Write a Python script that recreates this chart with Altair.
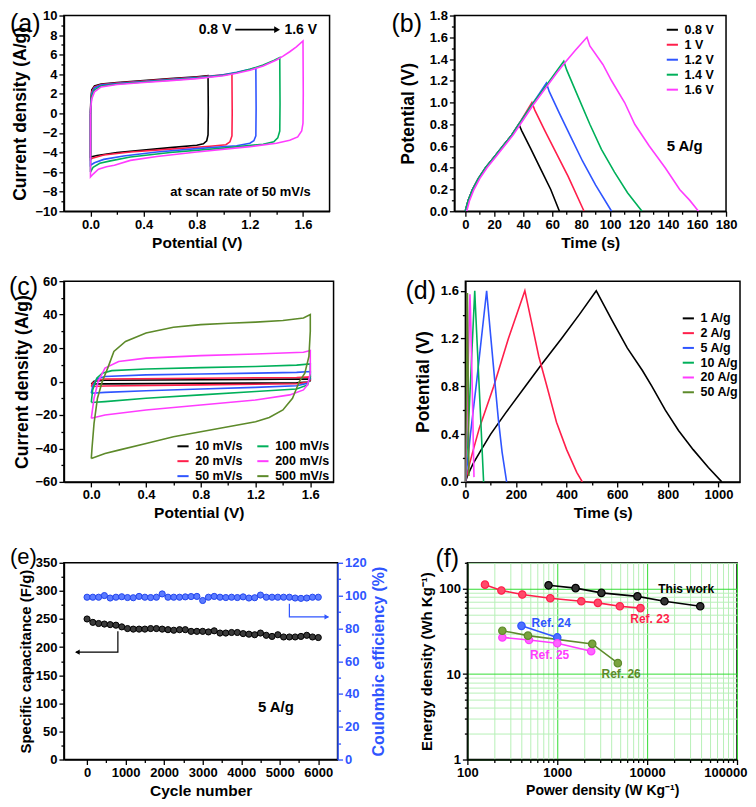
import json
import altair as alt
import pandas as pd

FONT = "Liberation Sans"
BLACK = "#000000"
RED = "#ff1f4b"
BLUE = "#2f55ff"
GREEN = "#00b05a"
MAGENTA = "#ff3cff"
OLIVE = "#5d8a2a"

# ---------------- (a) CV at 50 mV/s, different voltage windows
A_NAMES = ["0.8 V", "1 V", "1.2 V", "1.4 V", "1.6 V"]
A_COLORS = [BLACK, RED, BLUE, GREEN, MAGENTA]
A_X_08 = [0.0, 0.003, 0.01, 0.03, 0.08, 0.2, 0.4, 0.6, 0.8, 0.885, 0.887, 0.885, 0.875, 0.85, 0.8, 0.6, 0.4, 0.2, 0.05, 0.0, 0.0]
A_Y_08 = [0.0, 1.5, 2.4, 2.8, 3.0, 3.15, 3.35, 3.55, 3.75, 3.85, 0.0, -2.2, -2.8, -3.1, -3.25, -3.5, -3.75, -4.0, -4.3, -4.45, 0.0]
A_X_10 = [0.0, 0.003, 0.01, 0.03, 0.08, 0.2, 0.4, 0.6, 0.8, 1.0, 1.065, 1.067, 1.065, 1.05, 1.02, 0.9, 0.6, 0.3, 0.1, 0.02, 0.0, 0.0]
A_Y_10 = [0.0, 1.3, 2.2, 2.7, 2.95, 3.1, 3.3, 3.5, 3.7, 3.95, 4.05, 0.0, -2.3, -2.9, -3.2, -3.35, -3.65, -3.95, -4.25, -4.55, -4.7, 0.0]
A_X_12 = [0.0, 0.003, 0.01, 0.03, 0.08, 0.2, 0.4, 0.6, 0.8, 1.0, 1.1, 1.2, 1.245, 1.247, 1.245, 1.23, 1.2, 1.1, 0.8, 0.5, 0.25, 0.1, 0.03, 0.0, 0.0]
A_Y_12 = [0.0, 1.1, 2.0, 2.6, 2.9, 3.05, 3.25, 3.45, 3.65, 3.95, 4.2, 4.5, 4.65, 0.5, -2.3, -2.8, -3.05, -3.3, -3.6, -3.95, -4.35, -4.7, -5.05, -5.3, 0.0]
A_X_14 = [0.0, 0.003, 0.01, 0.03, 0.08, 0.2, 0.4, 0.6, 0.8, 1.0, 1.1, 1.2, 1.3, 1.38, 1.425, 1.427, 1.425, 1.41, 1.38, 1.3, 1.0, 0.6, 0.3, 0.15, 0.07, 0.02, 0.0, 0.0]
A_Y_14 = [0.0, 0.9, 1.8, 2.4, 2.8, 3.0, 3.2, 3.4, 3.6, 3.9, 4.15, 4.5, 4.95, 5.4, 5.7, 1.0, -1.8, -2.5, -2.9, -3.15, -3.55, -4.0, -4.45, -4.85, -5.1, -5.5, -6.0, 0.0]
A_X_16 = [0.0, 0.003, 0.01, 0.03, 0.08, 0.2, 0.4, 0.6, 0.8, 1.0, 1.1, 1.2, 1.3, 1.4, 1.45, 1.5, 1.55, 1.6, 1.602, 1.6, 1.59, 1.56, 1.5, 1.4, 1.2, 0.8, 0.5, 0.3, 0.18, 0.12, 0.06, 0.02, 0.0, 0.0]
A_Y_16 = [0.0, 0.7, 1.5, 2.2, 2.7, 2.95, 3.15, 3.35, 3.55, 3.85, 4.1, 4.4, 4.85, 5.45, 5.85, 6.3, 6.8, 7.4, 2.0, -1.0, -1.8, -2.4, -2.75, -3.05, -3.4, -3.95, -4.4, -4.8, -5.3, -5.45, -5.7, -6.2, -6.5, 0.0]
A_XMAJ = [0.0, 0.4, 0.8, 1.2, 1.6]
A_XMIN = [0.2, 0.6, 1.0, 1.4]
A_YMAJ = [-10, -8, -6, -4, -2, 0, 2, 4, 6, 8, 10]
A_YMIN = [-9, -7, -5, -3, -1, 1, 3, 5, 7, 9]
A_NOTE_TXT = ["0.8 V", "1.6 V", "at scan rate of 50 mV/s"]
A_NOTE_X = [1.06, 1.46, 0.6]
A_NOTE_Y = [8.55, 8.55, -8.0]
A_NOTE_ALIGN = ["right", "left", "left"]
A_ARROW_X = [1.09]
A_ARROW_X2 = [1.40]
A_ARROW_Y = [8.55]
A_HEAD_X = [1.405]

# ---------------- (b) GCD at 5 A/g, different windows
B_NAMES = ["0.8 V", "1 V", "1.2 V", "1.4 V", "1.6 V"]
B_T_08 = [0, 2, 5, 9, 14, 20, 26, 32, 37, 39, 45, 52, 59, 65]
B_V_08 = [0, 0.1, 0.2, 0.3, 0.4, 0.5, 0.6, 0.7, 0.8, 0.74, 0.58, 0.39, 0.2, 0]
B_T_10 = [0, 2, 5, 9, 14, 20, 26, 32, 37, 41.5, 46, 48, 55, 63, 71, 82]
B_V_10 = [0, 0.1, 0.2, 0.3, 0.4, 0.5, 0.6, 0.7, 0.8, 0.9, 1.0, 0.93, 0.74, 0.53, 0.32, 0]
B_T_12 = [0, 2, 5, 9, 14, 20, 26, 32, 37, 46, 51, 56, 58, 65, 73, 81, 90, 101]
B_V_12 = [0, 0.1, 0.2, 0.3, 0.4, 0.5, 0.6, 0.7, 0.8, 0.98, 1.08, 1.18, 1.1, 0.9, 0.68, 0.46, 0.24, 0]
B_T_14 = [0, 2, 5, 9, 14, 20, 26, 32, 37, 46, 56, 62, 68, 70, 78, 86, 94, 103, 112, 122]
B_V_14 = [0, 0.1, 0.2, 0.3, 0.4, 0.5, 0.6, 0.7, 0.8, 0.98, 1.16, 1.27, 1.38, 1.3, 1.05, 0.8, 0.57, 0.36, 0.17, 0]
B_T_16 = [1, 3, 6, 10, 15, 21, 27, 33, 38, 47, 57, 63, 69, 76, 84, 86, 95, 101, 110, 117, 127, 138, 148, 155, 161]
B_V_16 = [0, 0.1, 0.2, 0.3, 0.4, 0.5, 0.6, 0.7, 0.8, 0.98, 1.16, 1.27, 1.37, 1.48, 1.6, 1.52, 1.35, 1.2, 1.0, 0.8, 0.6, 0.4, 0.2, 0.1, 0]
B_XMAJ = [0, 20, 40, 60, 80, 100, 120, 140, 160, 180]
B_XMIN = [10, 30, 50, 70, 90, 110, 130, 150, 170]
B_YMAJ = [0.0, 0.2, 0.4, 0.6, 0.8, 1.0, 1.2, 1.4, 1.6, 1.8]
B_YMIN = [0.1, 0.3, 0.5, 0.7, 0.9, 1.1, 1.3, 1.5, 1.7]
B_NOTE_TXT = ["5 A/g"]
B_NOTE_X = [139]
B_NOTE_Y = [0.6]

# ---------------- (c) CV at different scan rates
C_NAMES = ["10 mV/s", "20 mV/s", "50 mV/s", "100 mV/s", "200 mV/s", "500 mV/s"]
C_COLORS = [BLACK, RED, BLUE, GREEN, MAGENTA, OLIVE]
C_X_10 = [0.0, 0.02, 0.1, 0.8, 1.6, 1.6, 1.58, 1.5, 0.8, 0.1, 0.0]
C_Y_10 = [-1.5, 0.2, 0.8, 1.1, 1.5, 0.5, -0.3, -0.8, -1.1, -1.4, -1.5]
C_X_20 = [0.0, 0.01, 0.04, 0.1, 0.8, 1.5, 1.6, 1.6, 1.58, 1.5, 0.8, 0.1, 0.0]
C_Y_20 = [-3.0, -1.0, 0.8, 1.5, 2.0, 2.4, 2.8, 1.0, -0.5, -1.3, -2.0, -2.7, -3.0]
C_X_50 = [0.0, 0.01, 0.04, 0.1, 0.4, 0.8, 1.2, 1.5, 1.6, 1.6, 1.58, 1.5, 1.2, 0.8, 0.4, 0.1, 0.0]
C_Y_50 = [-7.0, -3.0, 1.5, 3.0, 4.0, 4.5, 5.0, 5.5, 6.0, 2.0, -1.0, -2.5, -3.5, -4.5, -5.5, -6.5, -7.0]
C_X_100 = [0.0, 0.01, 0.04, 0.08, 0.15, 0.4, 0.8, 1.2, 1.5, 1.6, 1.6, 1.58, 1.5, 1.2, 0.8, 0.4, 0.1, 0.0]
C_Y_100 = [-12.5, -5.0, 2.0, 5.0, 6.5, 7.5, 8.3, 9.0, 9.8, 10.5, 3.0, -2.0, -4.5, -6.0, -8.0, -10.0, -12.0, -12.5]
C_X_200 = [0.0, 0.02, 0.05, 0.1, 0.2, 0.4, 0.8, 1.2, 1.55, 1.6, 1.6, 1.58, 1.55, 1.45, 1.2, 0.8, 0.4, 0.1, 0.0]
C_Y_200 = [-22.0, -10.0, 0.0, 8.0, 12.0, 14.0, 15.5, 16.5, 17.5, 18.5, 5.0, -2.0, -5.0, -8.0, -11.0, -14.0, -17.0, -20.0, -22.0]
C_X_500 = [0.0, 0.005, 0.02, 0.045, 0.08, 0.12, 0.165, 0.25, 0.4, 0.6, 0.8, 1.0, 1.2, 1.4, 1.55, 1.6, 1.6, 1.59, 1.56, 1.52, 1.47, 1.4, 1.3, 1.2, 1.0, 0.8, 0.6, 0.4, 0.2, 0.1, 0.0]
C_Y_500 = [-46, -40, -25, -10, 0, 8, 18, 24, 29, 32.5, 34, 34.8, 35.5, 36.5, 38, 40, 30, 15, 5, 0, -10, -17, -21.5, -24, -27, -30, -33, -37, -41, -43, -46]
C_XMAJ = [0.0, 0.4, 0.8, 1.2, 1.6]
C_XMIN = [0.2, 0.6, 1.0, 1.4]
C_YMAJ = [-60, -40, -20, 0, 20, 40, 60]
C_YMIN = [-50, -30, -10, 10, 30, 50]

# ---------------- (d) GCD at different current densities
D_NAMES = ["1 A/g", "2 A/g", "5 A/g", "10 A/g", "20 A/g", "50 A/g"]
D_COLORS = [BLACK, RED, BLUE, GREEN, MAGENTA, OLIVE]
D_T_1 = [0, 10, 30, 60, 100, 160, 237, 300, 380, 450, 517, 522, 580, 640, 700, 737, 790, 842, 900, 960, 1013]
D_V_1 = [0, 0.06, 0.15, 0.26, 0.4, 0.58, 0.8, 0.98, 1.2, 1.4, 1.6, 1.58, 1.35, 1.12, 0.93, 0.8, 0.6, 0.43, 0.27, 0.12, 0]
D_T_2 = [0, 8, 25, 55, 112, 170, 235, 238, 260, 290, 322, 360, 400, 440, 462]
D_V_2 = [0, 0.08, 0.22, 0.45, 0.8, 1.2, 1.6, 1.57, 1.35, 1.05, 0.8, 0.5, 0.27, 0.08, 0]
D_T_5 = [0, 5, 20, 45, 84, 86, 100, 115, 130, 145, 163]
D_V_5 = [0, 0.1, 0.4, 0.85, 1.6, 1.55, 1.22, 0.87, 0.53, 0.25, 0]
D_T_10 = [0, 3, 15, 37, 39, 50, 60, 72]
D_V_10 = [0, 0.12, 0.6, 1.6, 1.5, 1.0, 0.55, 0]
D_T_20 = [0, 2, 18, 20, 27, 34]
D_V_20 = [0, 0.15, 1.57, 1.45, 0.8, 0.04]
D_T_50 = [0, 1, 8, 9, 14]
D_V_50 = [0, 0.2, 1.58, 1.4, 0.05]
D_XMAJ = [0, 200, 400, 600, 800, 1000]
D_XMIN = [100, 300, 500, 700, 900]
D_YMAJ = [0.0, 0.4, 0.8, 1.2, 1.6]
D_YMIN = [0.2, 0.6, 1.0, 1.4]

# ---------------- (e) cycling stability
E_CYCLE = [0, 150, 300, 450, 600, 750, 900, 1050, 1200, 1350, 1500, 1650, 1800, 1950,
           2100, 2250, 2400, 2550, 2700, 2850, 3000, 3150, 3300, 3450, 3600, 3750, 3900,
           4050, 4200, 4350, 4500, 4650, 4800, 4950, 5100, 5250, 5400, 5550, 5700, 5850, 6000]
E_CAP = [250, 244, 242, 241, 240, 239, 236, 233, 232, 232, 232, 233, 233, 232, 231, 230,
         231, 231, 228, 228, 228, 227, 229, 225, 225, 226, 226, 224, 223, 222, 225, 221,
         219, 222, 218, 218, 218, 219, 221, 218, 217]
E_CE = [99, 99, 99, 100, 98.5, 99, 99.3, 98.8, 98.7, 99.5, 99, 98.8, 99, 101, 99, 99,
        99, 99.2, 99.4, 99.5, 97, 99, 99.5, 99, 98.8, 99, 98.8, 99.2, 98.5, 98.7, 100.3,
        99, 99, 99, 99, 99, 98.5, 98.3, 98.5, 99, 99]
E_ARROW_L_X = [800, 800, -290]
E_ARROW_L_Y = [228, 191, 191]
E_HEAD_L = ([-250], [191])
E_ARROW_R_X = [5250, 5250, 6260]
E_ARROW_R_Y = [95, 87, 87]
E_HEAD_R = ([6220], [87])
E_NOTE_X = [4900]
E_NOTE_Y = [93]
E_XMAJ = [0, 1000, 2000, 3000, 4000, 5000, 6000]
E_XMIN = [500, 1500, 2500, 3500, 4500, 5500]
E_YLMAJ = [0, 50, 100, 150, 200, 250, 300, 350]
E_YLMIN = [25, 75, 125, 175, 225, 275, 325]
E_YRMAJ = [0, 20, 40, 60, 80, 100, 120]
E_YRMIN = [10, 30, 50, 70, 90, 110]

# ---------------- (f) Ragone plot
F_NAMES = ["Ref. 23", "Ref. 24", "Ref. 25", "Ref. 26", "This work"]
F_COLORS = [RED, BLUE, MAGENTA, OLIVE, BLACK]
F_FILLS = ["#ff4a6a", "#4d70ff", "#ff66ff", "#7aa33e", "#333333"]
F_THIS_P = [800, 1600, 3100, 7800, 15600, 39000]
F_THIS_E = [109, 101, 89, 81, 71, 62]
F_R23_P = [157, 239, 408, 836, 1850, 2830, 4970, 8430]
F_R23_E = [111, 95, 85, 77, 71, 68, 62, 59]
F_R24_P = [400, 1000]
F_R24_E = [36.6, 26.8]
F_R25_P = [245, 485, 1000, 2385]
F_R25_E = [26.8, 25.0, 22.9, 18.5]
F_R26_P = [245, 472, 2450, 4720]
F_R26_E = [32.1, 28.1, 22.5, 13.4]
F_LABEL_TXT = ["This work", "Ref. 23", "Ref. 24", "Ref. 25", "Ref. 26"]
F_LABEL_X = [13300, 6500, 518, 497, 3108]
F_LABEL_Y = [100, 43.7, 40.0, 16.5, 9.9]
F_LABEL_COLOR = [BLACK, RED, BLUE, MAGENTA, OLIVE]
F_XMAJ = [100, 1000, 10000, 100000]
F_YMAJ = [1, 10, 100]
F_XMIN = [m * k for m in F_XMAJ[:-1] for k in range(2, 10)]
F_YMIN = [m * k for m in F_YMAJ[:-1] for k in range(2, 10)] + [200]


def curves(names, xs_list, ys_list, col):
    rows = []
    for n, xs, ys in zip(names, xs_list, ys_list):
        for i, (x, y) in enumerate(zip(xs, ys)):
            rows.append({"x": x, "y": y, col: n, "i": i})
    return pd.DataFrame(rows)


def axis(title, major, minor, fmt, tpad=4, orient=None, color="black",
         grid=False, gmaj=None, gmin=None, title_angle=None, title_baseline=None,
         title_size=None, **extra):
    test = "indexof(%s, datum.value) >= 0" % json.dumps(major)
    kw = dict(title=title, values=sorted(major + minor),
              labelExpr="(%s) ? format(datum.value, '%s') : ''" % (test, fmt),
              tickSize={"condition": {"test": test, "value": 5}, "value": 3},
              labelFlush=False, labelOverlap=False, titlePadding=tpad,
              labelPadding=2, domainColor=color, tickColor=color,
              labelColor=color, titleColor=color, grid=grid)
    if orient:
        kw["orient"] = orient
    if grid:
        kw["gridColor"] = {"condition": {"test": test, "value": gmaj}, "value": gmin}
        kw["gridWidth"] = 1
    if title_angle is not None:
        kw["titleAngle"] = title_angle
    if title_baseline is not None:
        kw["titleBaseline"] = title_baseline
    if title_size is not None:
        kw["titleFontSize"] = title_size
    kw.update(extra)
    return alt.Axis(**kw)


def plabel(txt, dx, dy, size=25):
    return alt.Chart(pd.DataFrame({"t": [txt]})).mark_text(
        font=FONT, fontSize=size, fontWeight="normal", align="left", baseline="middle", color="black"
    ).encode(x=alt.value(dx), y=alt.value(dy), text="t:N")


def line_legend(lx, ly, cols=1, rowpad=2, colpad=10):
    return alt.Legend(orient="none", legendX=lx, legendY=ly, title=None,
                      symbolType="M-1.6,0L1.6,0", symbolSize=49, symbolStrokeWidth=2,
                      labelFont=FONT, labelFontSize=12.5, labelFontWeight="bold",
                      labelOffset=6, rowPadding=rowpad, columns=cols,
                      columnPadding=colpad, padding=0)


def lin(dom):
    return alt.Scale(domain=dom, nice=False, zero=False)


# ================= panel (a)
df_a = curves(A_NAMES, [A_X_08, A_X_10, A_X_12, A_X_14, A_X_16],
              [A_Y_08, A_Y_10, A_Y_12, A_Y_14, A_Y_16], "sa")
ax = alt.X("x:Q", scale=lin([-0.2, 1.8]), axis=axis("Potential (V)", A_XMAJ, A_XMIN, ".1f"))
ay = alt.Y("y:Q", scale=lin([-10, 10]), axis=axis("Current density (A/g)", A_YMAJ, A_YMIN, "d", tpad=5))
a_lines = alt.Chart(df_a).mark_line(strokeWidth=1.6, clip=True).encode(
    x=ax, y=ay, order="i:Q",
    color=alt.Color("sa:N", scale=alt.Scale(domain=A_NAMES, range=A_COLORS), legend=None))
a_txt = alt.layer(*[
    alt.Chart(pd.DataFrame({"x": [A_NOTE_X[k]], "y": [A_NOTE_Y[k]], "t": [A_NOTE_TXT[k]]})).mark_text(
        font=FONT, fontWeight="bold", fontSize=14 if k < 2 else 13, align=A_NOTE_ALIGN[k],
        baseline="middle", color="black").encode(x=ax, y=ay, text="t:N")
    for k in range(3)])
a_arrow = alt.Chart(pd.DataFrame({"x": A_ARROW_X, "x2": A_ARROW_X2, "y": A_ARROW_Y})).mark_rule(
    color="black", strokeWidth=1.8).encode(x=ax, x2="x2:Q", y=ay)
a_head = alt.Chart(pd.DataFrame({"x": A_HEAD_X, "y": A_ARROW_Y})).mark_point(
    shape="triangle-right", filled=True, size=45, color="black", opacity=1).encode(x=ax, y=ay)
panel_a = alt.layer(a_lines, a_txt, a_arrow, a_head, plabel("(a)", -54, 8)).properties(width=266, height=196)

# ================= panel (b)
df_b = curves(B_NAMES, [B_T_08, B_T_10, B_T_12, B_T_14, B_T_16],
              [B_V_08, B_V_10, B_V_12, B_V_14, B_V_16], "sb")
bx = alt.X("x:Q", scale=lin([-7.5, 180]), axis=axis("Time (s)", B_XMAJ, B_XMIN, "d"))
by = alt.Y("y:Q", scale=lin([0, 1.8]), axis=axis("Potential (V)", B_YMAJ, B_YMIN, ".1f", tpad=12))
b_lines = alt.Chart(df_b).mark_line(strokeWidth=1.6, clip=True).encode(
    x=bx, y=by, order="i:Q",
    color=alt.Color("sb:N", scale=alt.Scale(domain=B_NAMES, range=A_COLORS),
                    legend=line_legend(212, 8)))
b_txt = alt.Chart(pd.DataFrame({"x": B_NOTE_X, "y": B_NOTE_Y, "t": B_NOTE_TXT})).mark_text(
    font=FONT, fontWeight="bold", fontSize=15, align="left", baseline="middle", color="black"
).encode(x=bx, y=by, text="t:N")
panel_b = alt.layer(b_lines, b_txt, plabel("(b)", -63, 8)).properties(width=272, height=196)

# ================= panel (c)
df_c = curves(C_NAMES, [C_X_10, C_X_20, C_X_50, C_X_100, C_X_200, C_X_500],
              [C_Y_10, C_Y_20, C_Y_50, C_Y_100, C_Y_200, C_Y_500], "sc")
cx = alt.X("x:Q", scale=lin([-0.2, 1.77]), axis=axis("Potential (V)", C_XMAJ, C_XMIN, ".1f"))
cy = alt.Y("y:Q", scale=lin([-60, 60]), axis=axis("Current density (A/g)", C_YMAJ, C_YMIN, "d", tpad=3))
c_lines = alt.Chart(df_c).mark_line(strokeWidth=1.6, clip=True).encode(
    x=cx, y=cy, order="i:Q",
    color=alt.Color("sc:N", scale=alt.Scale(domain=C_NAMES, range=C_COLORS),
                    legend=line_legend(113, 159, cols=2, rowpad=2, colpad=10)))
panel_c = alt.layer(c_lines, plabel("(c)", -55, 6)).properties(width=270, height=201)

# ================= panel (d)
df_d = curves(D_NAMES, [D_T_1, D_T_2, D_T_5, D_T_10, D_T_20, D_T_50],
              [D_V_1, D_V_2, D_V_5, D_V_10, D_V_20, D_V_50], "sd")
dx = alt.X("x:Q", scale=lin([0, 1085]), axis=axis("Time (s)", D_XMAJ, D_XMIN, "d"))
dy = alt.Y("y:Q", scale=lin([0, 1.68]), axis=axis("Potential (V)", D_YMAJ, D_YMIN, ".1f", tpad=8))
d_lines = alt.Chart(df_d).mark_line(strokeWidth=1.6, clip=True).encode(
    x=dx, y=dy, order="i:Q",
    color=alt.Color("sd:N", scale=alt.Scale(domain=D_NAMES, range=D_COLORS),
                    legend=line_legend(217, 31, rowpad=1.8)))
panel_d = alt.layer(d_lines, plabel("(d)", -60, 10)).properties(width=275, height=201)

# ================= panel (e)
ex = alt.X("x:Q", scale=lin([-600, 6500]), axis=axis("Cycle number", E_XMAJ, E_XMIN, "d"))
eyl = alt.Y("y:Q", scale=lin([0, 350]),
            axis=axis("Specific capacitance (F/g)", E_YLMAJ, E_YLMIN, "d", tpad=2, title_size=15))
eyr = alt.Y("y:Q", scale=lin([0, 120]),
            axis=axis("Coulombic efficiency (%)", E_YRMAJ, E_YRMIN, "d", tpad=4, orient="right",
                      color=BLUE, title_angle=270, title_baseline="top", title_size=16))
e_cap = alt.Chart(pd.DataFrame({"x": E_CYCLE, "y": E_CAP})).mark_point(
    shape="circle", filled=True, size=38, color="#3a3a3a", stroke="black", strokeWidth=1,
    opacity=1).encode(x=ex, y=eyl)
e_arrow_l = alt.Chart(pd.DataFrame({"x": E_ARROW_L_X, "y": E_ARROW_L_Y, "i": [0, 1, 2]})).mark_line(
    color="black", strokeWidth=1.2).encode(x=ex, y=eyl, order="i:Q")
e_head_l = alt.Chart(pd.DataFrame({"x": E_HEAD_L[0], "y": E_HEAD_L[1]})).mark_point(
    shape="triangle-left", filled=True, size=28, color="black", opacity=1).encode(x=ex, y=eyl)
e_note = alt.Chart(pd.DataFrame({"x": E_NOTE_X, "y": E_NOTE_Y, "t": ["5 A/g"]})).mark_text(
    font=FONT, fontWeight="bold", fontSize=15, align="center", baseline="middle", color="black"
).encode(x=ex, y=eyl, text="t:N")
e_ce = alt.Chart(pd.DataFrame({"x": E_CYCLE, "y": E_CE})).mark_point(
    shape="circle", filled=True, size=38, color="#5b7bff", stroke="#2244ee", strokeWidth=1,
    opacity=1).encode(x=ex, y=eyr)
e_arrow_r = alt.Chart(pd.DataFrame({"x": E_ARROW_R_X, "y": E_ARROW_R_Y, "i": [0, 1, 2]})).mark_line(
    color=BLUE, strokeWidth=1.2).encode(x=ex, y=eyr, order="i:Q")
e_head_r = alt.Chart(pd.DataFrame({"x": E_HEAD_R[0], "y": E_HEAD_R[1]})).mark_point(
    shape="triangle-right", filled=True, size=28, color=BLUE, opacity=1).encode(x=ex, y=eyr)
e_left = alt.layer(e_arrow_l, e_head_l, e_cap, e_note, plabel("(e)", -54, -6, size=22))
e_right = alt.layer(e_arrow_r, e_head_r, e_ce)
panel_e = alt.layer(e_left, e_right).resolve_scale(y="independent").properties(width=274, height=197)

# ================= panel (f)
df_f = curves(F_NAMES, [F_R23_P, F_R24_P, F_R25_P, F_R26_P, F_THIS_P],
              [F_R23_E, F_R24_E, F_R25_E, F_R26_E, F_THIS_E], "sf")
LAST = "datum.value == %d" % F_XMAJ[-1]
fx = alt.X("x:Q", scale=alt.Scale(type="log", domain=[100, 100000], nice=False),
           axis=axis("Power density (W Kg⁻¹)", F_XMAJ, F_XMIN, "d", grid=True,
                     gmaj="#33dd33", gmin="#b8f0b8", title_size=14,
                     labelAlign={"condition": {"test": LAST, "value": "right"}, "value": "center"},
                     labelOffset={"condition": {"test": LAST, "value": 10}, "value": 0}))
fy = alt.Y("y:Q", scale=alt.Scale(type="log", domain=[1, 200], nice=False),
           axis=axis("Energy density (Wh Kg⁻¹)", F_YMAJ, F_YMIN, "d", tpad=4, grid=True,
                     gmaj="#33dd33", gmin="#b8f0b8", title_size=15))
f_lines = alt.Chart(df_f).mark_line(strokeWidth=1.6).encode(
    x=fx, y=fy, order="i:Q",
    color=alt.Color("sf:N", scale=alt.Scale(domain=F_NAMES, range=F_COLORS), legend=None))
f_pts = alt.Chart(df_f).mark_point(shape="circle", filled=True, size=55, opacity=1, strokeWidth=1.2).encode(
    x=fx, y=fy,
    fill=alt.Fill("sf:N", scale=alt.Scale(domain=F_NAMES, range=F_FILLS), legend=None),
    stroke=alt.Stroke("sf:N", scale=alt.Scale(domain=F_NAMES, range=F_COLORS), legend=None))
f_txt = alt.Chart(pd.DataFrame({"x": F_LABEL_X, "y": F_LABEL_Y, "t": F_LABEL_TXT, "c": F_LABEL_COLOR})).mark_text(
    font=FONT, fontWeight="bold", fontSize=12, align="left", baseline="middle"
).encode(x=fx, y=fy, text="t:N", color=alt.Color("c:N", scale=None))
panel_f = alt.layer(f_lines, f_pts, f_txt, plabel("(f)", -32, -4)).properties(width=270, height=197)

IND = dict(color="independent", fill="independent", stroke="independent")
row1 = alt.hconcat(panel_a, panel_b, spacing=60).resolve_scale(**IND)
row2 = alt.hconcat(panel_c, panel_d, spacing=70).resolve_scale(**IND)
row3 = alt.hconcat(panel_e, panel_f, spacing=31).resolve_scale(**IND)

chart = alt.vconcat(
    alt.vconcat(row1, row2, spacing=22).resolve_scale(**IND), row3, spacing=22
).resolve_scale(**IND).properties(
    padding={"left": 0, "top": 0, "right": 0, "bottom": 0}
).configure(font=FONT).configure_axis(
    labelFont=FONT, labelFontSize=13, labelFontWeight="bold",
    titleFont=FONT, titleFontWeight="bold",
    domainWidth=1.5, tickWidth=1.3
).configure_axisX(titleFontSize=15.5).configure_axisY(titleFontSize=17.5).configure_view(
    stroke="black", strokeWidth=1.5
).configure_legend(labelFont=FONT)

chart.save("out.html", embed_options={"renderer": "svg", "actions": False})
